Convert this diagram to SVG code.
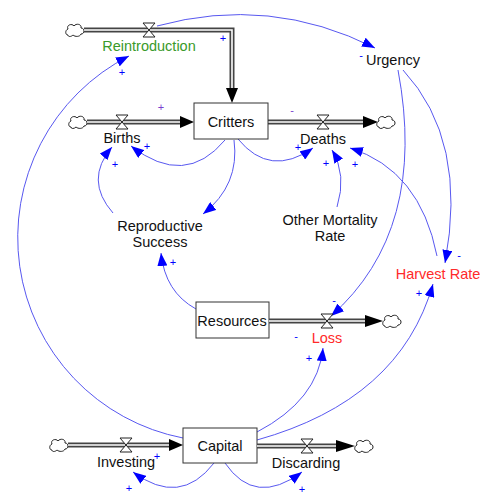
<svg xmlns="http://www.w3.org/2000/svg" width="500" height="504" viewBox="0 0 500 504">
<style>
text{font-family:"Liberation Sans",Arial,sans-serif}
.lbl{font-size:14.5px;fill:#111;text-anchor:middle}
.red{fill:#ff2a2a}
.grn{fill:#3a9a2a}
.pol{font-size:11px;fill:#0000ff;text-anchor:middle}
.pur{fill:#7a3fd0}
.box{fill:#fff;stroke:#333;stroke-width:1}
.po{fill:none;stroke:#444;stroke-width:5}
.pi{fill:none;stroke:#fff;stroke-width:1.6}
.ah{fill:#000}
.cn{fill:none;stroke:#5858f0;stroke-width:1;marker-end:url(#ba)}
</style>
<defs>
<marker id="ba" markerUnits="userSpaceOnUse" markerWidth="14" markerHeight="10" refX="13" refY="5" orient="auto">
<path d="M0,0 L13,5 L0,10 Z" fill="#0000ff"/>
</marker>
<path id="cloud" d="M-7,5 C-10,5 -10,0 -7,-1 C-9,-5 -3,-7 -1,-4 C1,-7 7,-6 6,-2 C10,-2 10,4 6,4 C5,7 0,7 -2,5 C-4,7 -7,7 -7,5 Z" fill="#fff" stroke="#222" stroke-width="1"/>
<path id="valve" d="M-6,-7 L6,-7 L-6,7 L6,7 Z" fill="#fff" stroke="#222" stroke-width="1"/>
</defs>
<g id="connectors">
<path class="cn" d="M157,26 Q270,-5 375,48"/>
<path class="cn" d="M403,70 Q468,140 445,263"/>
<path class="cn" d="M398,70 Q428,230 331,316"/>
<path class="cn" d="M437,256 Q420,170 350,148"/>
<path class="cn" d="M337,207 Q347,175 332,150"/>
<path class="cn" d="M238,139 Q270,178 313,148"/>
<path class="cn" d="M225,140 Q185,188 131,146"/>
<path class="cn" d="M234,140 Q240,185 203,214"/>
<path class="cn" d="M113,213 Q84,180 112,147"/>
<path class="cn" d="M196,309 Q165,292 161,253"/>
<path class="cn" d="M183,438 A204,204 0 0 1 129,56"/>
<path class="cn" d="M257,440 Q400,400 433,284"/>
<path class="cn" d="M257,432 Q318,400 323,348"/>
<path class="cn" d="M214,463 Q180,507 133,472"/>
<path class="cn" d="M225,463 Q255,507 302,472"/>
</g>
<g id="reintroduction">
<use href="#cloud" x="75" y="30"/>
<path class="po" d="M84,30 H232 V89"/>
<path class="pi" d="M84,30 H232 V89"/>
<polygon class="ah" points="226,88 232,103 238,88"/>
<use href="#valve" x="149" y="30"/>
<text class="lbl grn" x="149" y="51">Reintroduction</text>
</g>
<g id="births">
<use href="#cloud" x="78" y="122"/>
<path class="po" d="M87,122 H181"/>
<path class="pi" d="M87,122 H181"/>
<polygon class="ah" points="180,116 194,122 180,128"/>
<use href="#valve" x="122" y="122"/>
<text class="lbl" x="122" y="143">Births</text>
</g>
<g id="deaths">
<path class="po" d="M268,122 H364"/>
<path class="pi" d="M268,122 H364"/>
<polygon class="ah" points="363,116 378,122 363,128"/>
<use href="#cloud" x="386" y="122"/>
<use href="#valve" x="323" y="122"/>
<text class="lbl" x="323" y="144">Deaths</text>
</g>
<g id="critters">
<rect class="box" x="194" y="103" width="74" height="36"/>
<text class="lbl" x="231" y="127">Critters</text>
</g>
<g id="urgency">
<text class="lbl" x="393" y="65">Urgency</text>
</g>
<g id="reproductive-success">
<text class="lbl" x="160" y="231">Reproductive</text>
<text class="lbl" x="160" y="247">Success</text>
</g>
<g id="other-mortality-rate">
<text class="lbl" x="330" y="225">Other Mortality</text>
<text class="lbl" x="330" y="241">Rate</text>
</g>
<g id="harvest-rate">
<text class="lbl red" x="438" y="279">Harvest Rate</text>
</g>
<g id="resources">
<rect class="box" x="196" y="302" width="73" height="36"/>
<text class="lbl" x="232" y="326">Resources</text>
</g>
<g id="loss">
<path class="po" d="M269,321 H366"/>
<path class="pi" d="M269,321 H366"/>
<polygon class="ah" points="365,315 383,321 365,327"/>
<use href="#cloud" x="392" y="321"/>
<use href="#valve" x="327" y="321"/>
<text class="lbl red" x="327" y="343">Loss</text>
</g>
<g id="capital">
<rect class="box" x="183" y="428" width="74" height="35"/>
<text class="lbl" x="220" y="451">Capital</text>
</g>
<g id="investing">
<use href="#cloud" x="59" y="445"/>
<path class="po" d="M68,445 H170"/>
<path class="pi" d="M68,445 H170"/>
<polygon class="ah" points="169,439 183,445 169,451"/>
<use href="#valve" x="126" y="445"/>
<text class="lbl" x="126" y="467">Investing</text>
</g>
<g id="discarding">
<path class="po" d="M257,446 H337"/>
<path class="pi" d="M257,446 H337"/>
<polygon class="ah" points="336,440 355,446 336,452"/>
<use href="#cloud" x="364" y="446"/>
<use href="#valve" x="307" y="446"/>
<text class="lbl" x="306" y="468">Discarding</text>
</g>
<g id="polarities">
<text class="pol" x="223" y="42">+</text>
<text class="pol" x="122" y="76">+</text>
<text class="pol pur" x="161" y="111">+</text>
<text class="pol" x="147" y="150">+</text>
<text class="pol" x="115" y="168">+</text>
<text class="pol" x="173" y="266">+</text>
<text class="pol" x="298" y="151">+</text>
<text class="pol" x="326" y="167">+</text>
<text class="pol" x="355" y="168">+</text>
<text class="pol pur" x="292" y="114">-</text>
<text class="pol" x="361" y="59">-</text>
<text class="pol" x="459" y="259">-</text>
<text class="pol" x="334" y="304">-</text>
<text class="pol" x="296" y="340">-</text>
<text class="pol" x="309" y="362">+</text>
<text class="pol" x="419" y="297">+</text>
<text class="pol" x="157" y="460">+</text>
<text class="pol" x="129" y="492">+</text>
<text class="pol" x="302" y="493">+</text>
</g>
</svg>
